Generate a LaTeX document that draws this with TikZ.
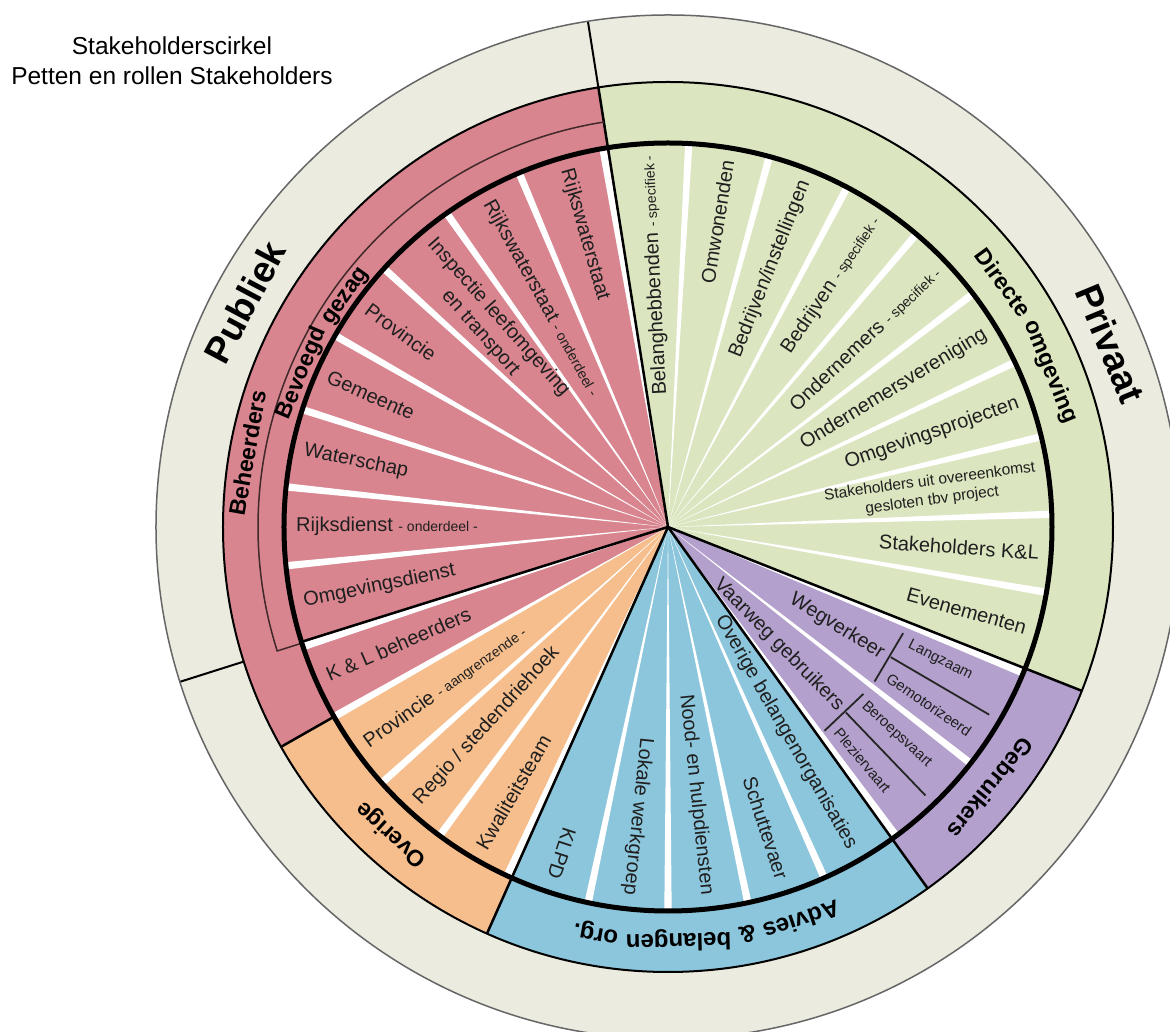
\documentclass[tikz,border=0pt]{standalone}
\usepackage{fontspec}
\setmainfont{Liberation Sans}
\newcommand{\fsz}[2]{\fontsize{#1}{#2}\selectfont}
\newcommand{\smtxt}{\fsz{14}{16}}
\definecolor{beigec}{HTML}{ECEBE0}
\definecolor{pinkc}{HTML}{D8858F}
\definecolor{greenc}{HTML}{DBE6C0}
\definecolor{purplec}{HTML}{B3A0CC}
\definecolor{bluec}{HTML}{8CC6DC}
\definecolor{orangec}{HTML}{F6BE8C}
\begin{document}
\begin{tikzpicture}[x=1pt,y=1pt,
  lab/.style={inner sep=0pt, font=\fsz{20}{24}, text=black!88},
  slab/.style={inner sep=0pt, font=\fsz{15}{18}, text=black!88},
  catline/.style={black, line width=2.5pt},
  brk/.style={black!85, line width=1.8pt},
  ringlab/.style={inner sep=0pt, anchor=base, font=\fsz{23}{23}\bfseries},
  biglab/.style={inner sep=0pt, anchor=base, font=\fsz{37}{37}\bfseries}]
\useasboundingbox (-668,-505) rectangle (502,527);
\clip (-668,-505) rectangle (502,527);
\fill[white] (-668,-505) rectangle (502,527);
% outer beige ring
\fill[beigec] (0,0) circle[radius=512];
% category sectors
\fill[pinkc] (0,0) -- (99:445) arc[start angle=99, end angle=209.6, radius=445] -- cycle;
\fill[orangec] (0,0) -- (209.6:445) arc[start angle=209.6, end angle=246, radius=445] -- cycle;
\fill[bluec] (0,0) -- (246:445) arc[start angle=246, end angle=305.7, radius=445] -- cycle;
\fill[purplec] (0,0) -- (305.7:445) arc[start angle=305.7, end angle=338.4, radius=445] -- cycle;
\fill[greenc] (0,0) -- (338.4:445) arc[start angle=338.4, end angle=459, radius=445] -- cycle;
% white gaps between wedges
\foreach \a in {86.9,74.7,62.2,49.7,37.4,25.4,13.6,1.9,-9.8,99.75,-22.35,-53.55,245.25,198.15,-38,258,270,282,294,233.5,221.8,209.6,185.8,174.0,162.2,150.1,137.7,125.2,112.8}
  \fill[white] (0,0) -- ({\a-0.55}:384) arc[start angle={\a-0.55}, end angle={\a+0.55}, radius=384] -- cycle;
% category lines inside wheel
\foreach \a in {99,197.4,246,305.7,338.4}
  \draw[catline] (0,0) -- (\a:384);
% category lines in coloured ring
\foreach \a in {99,209.6,246,305.7,338.4}
  \draw[catline] (\a:384) -- (\a:445);
% dividers in beige ring
\draw[black, line width=2pt] (99:445) -- (99:512);
\draw[black, line width=2pt] (197.6:445) -- (197.6:512);
% circles
\draw[black, line width=2pt] (0,0) circle[radius=445];
\draw[black!60, line width=1.5pt] (0,0) circle[radius=512];
% bracket Bevoegd gezag
\draw[black!70!pinkc, line width=1.5pt] (99:410) arc[start angle=99, end angle=197.6, radius=410] -- (197.6:386);
\draw[black, line width=5pt] (0,0) circle[radius=384];
% purple brackets
\draw[brk] (-24.3:258) -- (-36.8:258);
\draw[brk] (-30.3:258) -- (-30.3:372);
\draw[brk] (-40.5:257) -- (-52.5:257);
\draw[brk] (-46.2:257) -- (-46.2:372);
% title
\node[anchor=base, inner sep=0pt, font=\fsz{24.5}{24.5}] (t1) at (-496,472) {Stakeholderscirkel};
\node[anchor=base, inner sep=0pt, font=\fsz{24.5}{24.5}] (t2) at (-496,442) {Petten en rollen Stakeholders};
% pink labels
\node[lab, rotate=285.9, anchor=west] (p1) at (105.9:372) {Rijkswaterstaat};
\node[lab, rotate=299.0, anchor=west] (p2) at (119.0:372) {Rijkswaterstaat {\smtxt - onderdeel -}};
\node[lab, rotate=311.5, anchor=west, align=center] (p3) at (131.5:372) {Inspectie leefomgeving\\en transport};
\node[lab, rotate=323.9, anchor=west] (p4) at (143.9:372) {Provincie};
\node[lab, rotate=336.1, anchor=west] (p5) at (156.1:372) {Gemeente};
\node[lab, rotate=348.1, anchor=west] (p6) at (168.1:372) {Waterschap};
\node[lab, rotate=359.9, anchor=west] (p7) at (179.9:372) {Rijksdienst {\smtxt - onderdeel -}};
\node[lab, rotate=11.6, anchor=west] (p8) at (191.6:372) {Omgevingsdienst};
\node[lab, rotate=23.5, anchor=west] (p9) at (203.5:372) {K \& L beheerders};
% orange labels
\node[lab, rotate=35.7, anchor=west] (o1) at (215.7:372) {Provincie {\smtxt - aangrenzende -}};
\node[lab, rotate=47.6, anchor=west] (o2) at (227.6:372) {Regio / stedendriehoek};
\node[lab, rotate=59.8, anchor=west] (o3) at (239.8:372) {Kwaliteitsteam};
% blue labels
\node[lab, rotate=-108, anchor=east] (b1) at (-108:370) {KLPD};
\node[lab, rotate=-96, anchor=east] (b2) at (-96:370) {Lokale werkgroep};
\node[lab, rotate=-84, anchor=east] (b3) at (-84:370) {Nood- en hulpdiensten};
\node[lab, rotate=-72, anchor=east] (b4) at (-72:370) {Schuttevaer};
\node[lab, rotate=-60.15, anchor=east] (b5) at (-60.15:370) {Overige belangenorganisaties};
% green labels
\node[lab, rotate=93, anchor=east] (g1) at (93:372) {Belanghebbenden {\smtxt - specifiek -}};
\node[lab, rotate=80.8, anchor=east] (g2) at (80.8:372) {Omwonenden};
\node[lab, rotate=68.4, anchor=east] (g3) at (68.4:372) {Bedrijven/instellingen};
\node[lab, rotate=56, anchor=east] (g4) at (56:372) {Bedrijven {\smtxt - specifiek -}};
\node[lab, rotate=43.5, anchor=east] (g5) at (43.5:372) {Ondernemers {\smtxt - specifiek -}};
\node[lab, rotate=31.4, anchor=east] (g6) at (31.4:372) {Ondernemersvereniging};
\node[lab, rotate=19.5, anchor=east] (g7) at (19.5:372) {Omgevingsprojecten};
\node[slab, rotate=7.75, anchor=east, align=center, font=\fsz{15.5}{19}] (g8) at (7.75:372) {Stakeholders uit overeenkomst\\gesloten tbv project};
\node[lab, rotate=-3.95, anchor=east] (g9) at (-3.95:372) {Stakeholders K\&L};
\node[lab, rotate=-15.7, anchor=east] (g10) at (-15.7:372) {Evenementen};
% purple labels
\node[lab, rotate=-32, anchor=east] (u1) at (-30.8:250) {Wegverkeer};
\node[lab, rotate=-45.5, anchor=east] (u2) at (-46.3:250) {Vaarweg gebruikers};
\node[slab, rotate=-27, anchor=west] (u3) at (-26:268) {Langzaam};
\node[slab, rotate=-34.5, anchor=west] (u4) at (-34.2:266) {Gemotorizeerd};
\node[slab, rotate=-42.5, anchor=west] (u5) at (-42.2:264) {Beroepsvaart};
\node[slab, rotate=-50, anchor=west] (u6) at (-50.2:264) {Pleziervaart};
% ring labels (words placed along the arcs)
\node[ringlab, rotate=-53.9] (r1a) at (36.1:407) {Directe};
\node[ringlab, rotate=-67.9] (r1b) at (22.1:407) {omgeving};
\node[ringlab, rotate=-129] (r2) at (-39:407) {Gebruikers};
\node[ringlab, font=\fsz{24}{24}\bfseries, rotate=-161.26] (r3a) at (-71.26:407) {Advies};
\node[ringlab, font=\fsz{24}{24}\bfseries, rotate=-168.96] (r3b) at (-78.96:407) {\&};
\node[ringlab, font=\fsz{24}{24}\bfseries, rotate=-178.53] (r3c) at (-88.53:407) {belangen};
\node[ringlab, font=\fsz{24}{24}\bfseries, rotate=-190.08] (r3d) at (-100.08:407) {org.};
\node[ringlab, rotate=138] (r4) at (228:407) {Overige};
\node[ringlab, rotate=80] (r5) at (170:419) {Beheerders};
\node[ringlab, rotate=67.25] (r6a) at (157.25:391) {Bevoegd};
\node[ringlab, rotate=54.41] (r6b) at (144.41:391) {gezag};
\node[biglab, rotate=62] (r7) at (152:466) {Publiek};
\node[biglab, rotate=-67.5] (r8) at (22.5:466) {Privaat};
\end{tikzpicture}
\end{document}
